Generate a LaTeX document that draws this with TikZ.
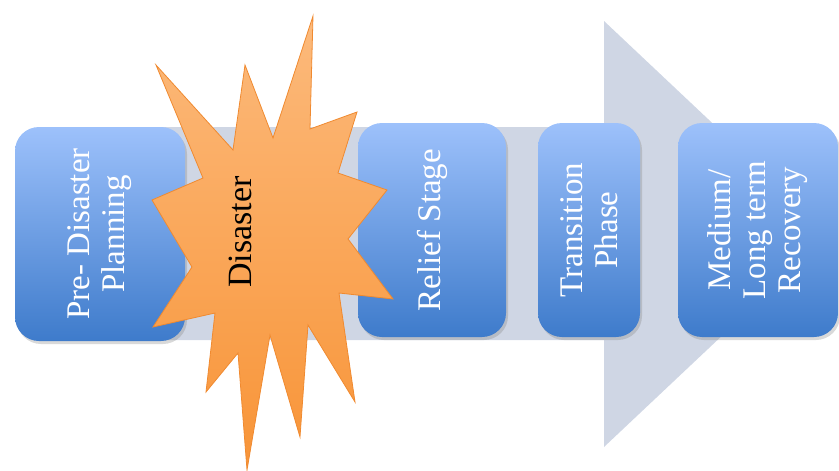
\documentclass[tikz,border=0pt]{standalone}
\usepackage{fontspec}
\setmainfont{Liberation Serif}
\usetikzlibrary{shadows}
\definecolor{arrowgrey}{HTML}{CFD6E4}
\definecolor{boxtop}{HTML}{9DC1FB}
\definecolor{boxbottom}{HTML}{3E7BCB}
\definecolor{startop}{HTML}{FCBA7C}
\definecolor{starbottom}{HTML}{F89437}
\definecolor{starline}{HTML}{F08A30}

\begin{document}
\begin{tikzpicture}[x=1pt,y=-1pt,
  phase/.style={rounded corners=24pt, rotate=90, inner sep=0pt,
    top color=boxtop, bottom color=boxbottom, text=white, align=center,
    minimum width=214pt, font=\fontsize{33}{35}\selectfont,
    drop shadow={opacity=0.3, shadow xshift=2pt, shadow yshift=-3pt}},
  burst/.style={draw=starline, line width=0.8pt, line join=miter,
    top color=startop, bottom color=starbottom},
  ]
  \useasboundingbox (0,0) rectangle (839,471);

  % big arrow
  \fill[arrowgrey] (50,127) -- (604,127) -- (604,21) -- (830,234)
    -- (604,447) -- (604,340) -- (50,340) -- cycle;

  % phases
  \node[phase, minimum height=170pt] (planning) at (100,234)
    {Pre- Disaster\\Planning};
  \node[phase, minimum height=148pt] (relief) at (432,230)
    {Relief Stage};
  \node[phase, minimum height=102pt] (transition) at (589,230)
    {Transition\\Phase};
  \node[phase, minimum height=160pt] (recovery) at (758,230)
    {Medium/\\Long term\\Recovery};

  % disaster
  \draw[burst] (313,16) -- (310,129) -- (357,112) -- (338,173)
    -- (387,190) -- (348,239) -- (393,299) -- (339,293)
    -- (355,402) -- (308,325) -- (300,437) -- (270,335)
    -- (247,470) -- (238,353) -- (206,392) -- (215,313)
    -- (153,327) -- (192,267) -- (152,200) -- (203,178)
    -- (156,65) -- (233,150) -- (245,65) -- (273,138) -- cycle;
  \node[rotate=90, font=\fontsize{34}{36}\selectfont] (disaster) at (240,232)
    {Disaster};
\end{tikzpicture}
\end{document}
